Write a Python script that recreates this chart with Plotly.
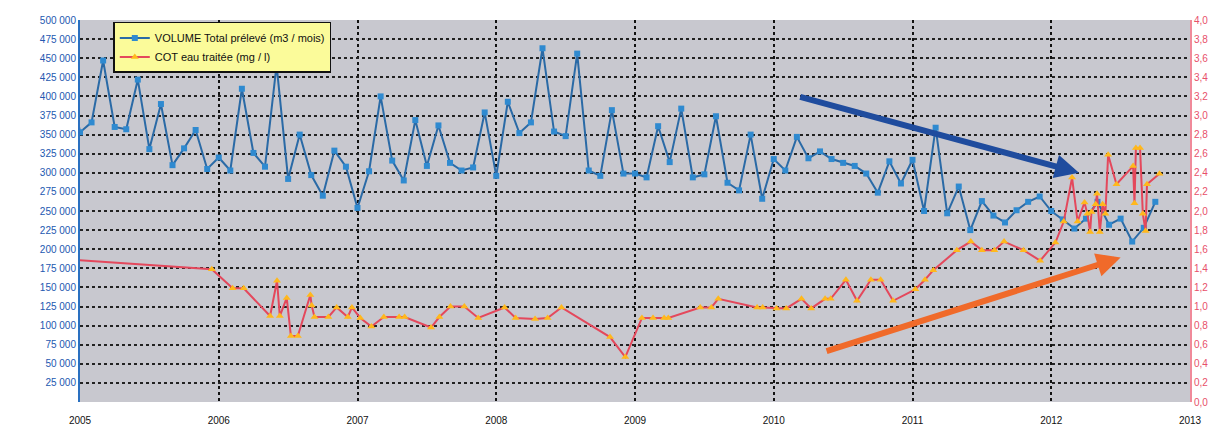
import plotly.graph_objects as go

# ---- data -----------------------------------------------------------
# Monthly volume (m3 / month); first value is Dec 2004, then Jan 2005 ... Oct 2012
vol_start_year = 2004 + 11 / 12
volume = [
    440000,
    353000, 366000, 447000, 360000, 357000, 422000, 331000, 390000, 310000, 332000, 356000, 305000,
    320000, 303000, 410000, 326000, 308000, 441000, 292000, 350000, 297000, 270000, 329000, 308000,
    254000, 302000, 400000, 316000, 290000, 369000, 309000, 362000, 313000, 303000, 307000, 379000,
    296000, 393000, 352000, 366000, 463000, 354000, 348000, 456000, 303000, 296000, 382000, 299000,
    299000, 294000, 361000, 314000, 384000, 294000, 298000, 374000, 287000, 277000, 350000, 266000,
    318000, 303000, 347000, 319000, 328000, 318000, 313000, 309000, 299000, 274000, 315000, 286000,
    317000, 250000, 359000, 247000, 282000, 225000, 263000, 244000, 235000, 251000, 262000, 269000,
    250000, 239000, 227000, 240000, 262000, 232000, 240000, 210000, 228000, 262000,
]
vol_dates = [vol_start_year + i / 12 for i in range(len(volume))]

# COT of treated water (mg / l), irregular sampling dates (decimal years)
cot_dates = [
    2004.95, 2005.95, 2006.10, 2006.18, 2006.37, 2006.42, 2006.44, 2006.49, 2006.52, 2006.57,
    2006.66, 2006.67, 2006.69, 2006.79, 2006.85, 2006.93, 2006.96, 2007.02, 2007.10, 2007.19,
    2007.30, 2007.34, 2007.53, 2007.59, 2007.67, 2007.77, 2007.87, 2008.06, 2008.14, 2008.28,
    2008.37, 2008.47, 2008.82, 2008.93, 2009.05, 2009.13, 2009.21, 2009.24, 2009.47, 2009.55,
    2009.60, 2009.88, 2009.92, 2010.02, 2010.09, 2010.20, 2010.27, 2010.37, 2010.41, 2010.52,
    2010.60, 2010.70, 2010.77, 2010.86, 2011.02, 2011.09, 2011.15, 2011.32, 2011.42, 2011.50,
    2011.59, 2011.66, 2011.80, 2011.92, 2012.03, 2012.09, 2012.15, 2012.19, 2012.24, 2012.26,
    2012.28, 2012.29, 2012.32, 2012.33, 2012.35, 2012.37, 2012.39, 2012.41, 2012.47, 2012.59,
    2012.60, 2012.61, 2012.64, 2012.66, 2012.68, 2012.69, 2012.78,
]
cot = [
    1.49, 1.39, 1.19, 1.19, 0.90, 1.27, 0.90, 1.09, 0.69, 0.69,
    1.12, 1.01, 0.89, 0.89, 0.99, 0.89, 0.99, 0.88, 0.79, 0.89,
    0.89, 0.89, 0.78, 0.89, 1.00, 1.00, 0.88, 0.99, 0.88, 0.87,
    0.88, 0.99, 0.68, 0.47, 0.88, 0.88, 0.88, 0.88, 0.99, 0.99,
    1.08, 0.99, 0.99, 0.98, 0.98, 1.08, 0.98, 1.08, 1.08, 1.28,
    1.06, 1.28, 1.28, 1.06, 1.18, 1.28, 1.38, 1.59, 1.68, 1.59,
    1.59, 1.68, 1.59, 1.48, 1.67, 1.89, 2.35, 1.89, 2.09, 1.97,
    1.78, 1.99, 2.07, 2.18, 1.78, 2.07, 1.97, 2.59, 2.28, 2.47,
    2.08, 2.66, 2.66, 1.97, 1.79, 2.28, 2.39,
]

year_ticks = [2005, 2006, 2007, 2008, 2009, 2010, 2011, 2012, 2013]
year_labels = [str(y) for y in year_ticks]
volume_ticks = list(range(25000, 500001, 25000))

legend_volume = "VOLUME Total prélevé (m3 / mois)"
legend_cot = "COT eau traitée (mg / l)"

# hand-drawn trend arrows (start/end in data units)
trend_down = dict(x0=2010.18, y0=400000, x1=2012.2, y1=300000)
trend_up = dict(x0=2010.37, y0=66000, x1=2012.5, y1=189000)

# ---- figure ---------------------------------------------------------
fig = go.Figure()
fig.add_trace(go.Scatter(
    x=vol_dates, y=volume, name=legend_volume, mode="lines+markers",
    line=dict(color="#2a6aa6", width=2),
    marker=dict(symbol="square", size=6, color="#2f8ad0", line=dict(width=0)),
    yaxis="y",
))
fig.add_trace(go.Scatter(
    x=cot_dates, y=cot, name=legend_cot, mode="lines+markers",
    line=dict(color="#e4485c", width=2),
    marker=dict(symbol="triangle-up", size=7, color="#ffb81c", line=dict(width=0)),
    yaxis="y2",
))

for t, col in ((trend_down, "#1f4c9e"), (trend_up, "#f06a2a")):
    fig.add_annotation(
        x=t["x1"], y=t["y1"], ax=t["x0"], ay=t["y0"],
        xref="x", yref="y", axref="x", ayref="y",
        showarrow=True, arrowhead=2, arrowsize=0.8, arrowwidth=6,
        arrowcolor=col, text="",
    )

# the page body adds an offset, margins compensate for it
fig.update_layout(
    width=1231, height=436,
    margin=dict(l=72, r=49, t=6, b=42),
    paper_bgcolor="white",
    plot_bgcolor="#c8c8cf",
    separators=", ",
    font=dict(family="Liberation Sans, Arial, sans-serif", size=10, color="#111"),
    showlegend=True,
    legend=dict(
        x=0.03, y=0.995, xanchor="left", yanchor="top",
        bgcolor="#fbfb9a", bordercolor="#111", borderwidth=1.5,
        font=dict(size=11, color="#111"),
        tracegroupgap=0, itemwidth=30,
    ),
    xaxis=dict(
        range=[2005, 2013], tickmode="array", tickvals=year_ticks, ticktext=year_labels,
        showgrid=True, gridcolor="#111", griddash="dot", gridwidth=1.5,
        zeroline=False, showline=False, ticks="", ticklabelstandoff=11,
        tickfont=dict(size=10, color="#111"),
    ),
    yaxis=dict(
        range=[0, 500000], tickmode="array", tickvals=volume_ticks, tickformat=",.0f",
        showgrid=True, gridcolor="#222", griddash="dot", gridwidth=1.5,
        zeroline=False, showline=True, linecolor="#2a70c0", linewidth=2,
        ticks="", tickfont=dict(size=10, color="#2358b0"),
    ),
    yaxis2=dict(
        range=[0, 4.0], dtick=0.2, tickformat=".1f", overlaying="y", side="right",
        showgrid=False, zeroline=False, showline=True, linecolor="#f08a9a", linewidth=2,
        ticks="", tickfont=dict(size=10, color="#e8506a"),
    ),
)

fig.write_html("out.html")
